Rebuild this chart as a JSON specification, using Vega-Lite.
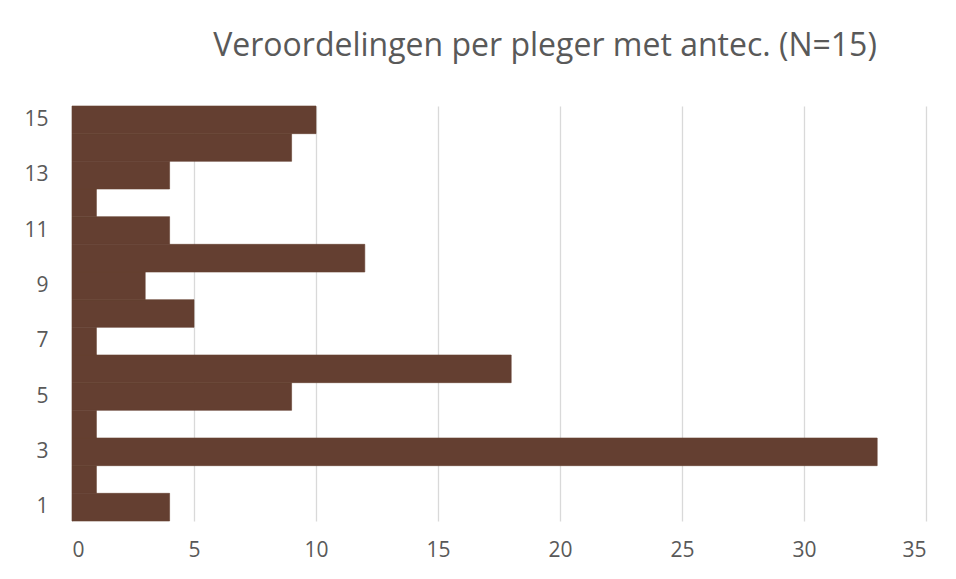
{
  "$schema": "https://vega.github.io/schema/vega-lite/v6.json",
  "width": 854,
  "height": 415,
  "autosize": {"type": "none"},
  "padding": {"left": 72, "top": 106, "right": 30, "bottom": 58},
  "background": "white",
  "config": {
    "view": {"stroke": null},
    "font": "Open Sans"
  },
  "title": {
    "text": "Veroordelingen per pleger met antec. (N=15)",
    "anchor": "middle",
    "dx": 46,
    "offset": 18,
    "baseline": "alphabetic",
    "fontSize": 32,
    "fontWeight": "normal",
    "color": "#595959",
    "font": "Open Sans"
  },
  "data": {
    "values": [
      {"pleger": 1, "veroordelingen": 4},
      {"pleger": 2, "veroordelingen": 1},
      {"pleger": 3, "veroordelingen": 33},
      {"pleger": 4, "veroordelingen": 1},
      {"pleger": 5, "veroordelingen": 9},
      {"pleger": 6, "veroordelingen": 18},
      {"pleger": 7, "veroordelingen": 1},
      {"pleger": 8, "veroordelingen": 5},
      {"pleger": 9, "veroordelingen": 3},
      {"pleger": 10, "veroordelingen": 12},
      {"pleger": 11, "veroordelingen": 4},
      {"pleger": 12, "veroordelingen": 1},
      {"pleger": 13, "veroordelingen": 4},
      {"pleger": 14, "veroordelingen": 9},
      {"pleger": 15, "veroordelingen": 10}
    ]
  },
  "mark": {"type": "bar", "color": "#643F31", "stroke": "#643F31", "strokeWidth": 0.6},
  "encoding": {
    "y": {
      "field": "pleger",
      "type": "ordinal",
      "sort": "descending",
      "scale": {"paddingInner": 0, "paddingOuter": 0},
      "axis": {
        "title": null,
        "values": [1, 3, 5, 7, 9, 11, 13, 15],
        "ticks": false,
        "domain": false,
        "labelFontSize": 21,
        "labelColor": "#595959",
        "labelPadding": 24,
        "labelFont": "Open Sans"
      }
    },
    "x": {
      "field": "veroordelingen",
      "type": "quantitative",
      "scale": {"domain": [0, 35], "nice": false},
      "axis": {
        "title": null,
        "values": [0, 5, 10, 15, 20, 25, 30, 35],
        "ticks": false,
        "domain": false,
        "grid": true,
        "gridColor": "#d9d9d9",
        "gridWidth": 1.3,
        "labelFontSize": 21,
        "labelColor": "#595959",
        "labelPadding": 18,
        "labelFont": "Open Sans"
      }
    }
  }
}
